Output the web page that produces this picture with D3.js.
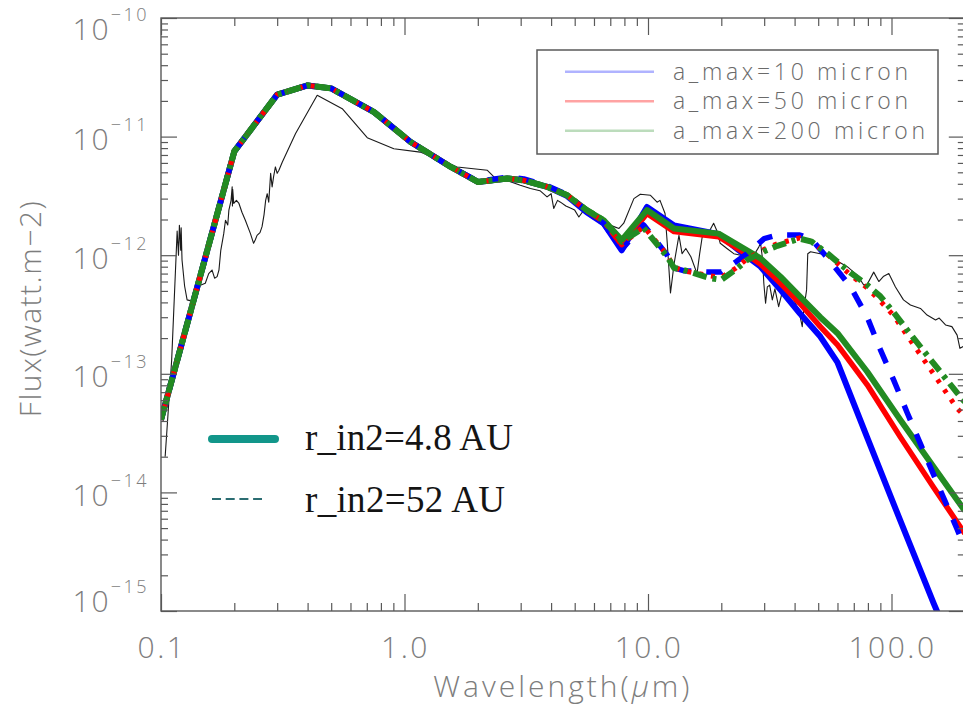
<!DOCTYPE html>
<html>
<head>
<meta charset="utf-8">
<script src="https://cdn.jsdelivr.net/npm/d3@7"></script>
<style>
  html, body { margin: 0; padding: 0; background: #fff; }
  svg { display: block; }
</style>
</head>
<body>
<svg id="chart" width="963" height="707"></svg>
<script>
// ---- Observed spectrum (wavelength in micron, flux in W m^-2) ----
const obsWl = [0.104, 0.1106, 0.1165, 0.118, 0.119, 0.1205, 0.121, 0.122, 0.125, 0.128, 0.134, 0.141,
  0.146, 0.152, 0.157, 0.162, 0.166, 0.170, 0.173, 0.176, 0.181, 0.184, 0.188, 0.190, 0.194, 0.196,
  0.1965, 0.197, 0.199, 0.204, 0.209, 0.215, 0.222, 0.233, 0.240, 0.244, 0.248, 0.255, 0.260, 0.265,
  0.269, 0.273, 0.277, 0.282, 0.286, 0.290, 0.295, 0.300, 0.305, 0.315, 0.357, 0.438, 0.555, 0.703,
  0.904, 1.16, 1.645, 2.19, 2.33, 2.6, 2.99, 3.29, 3.6, 3.85, 4.0, 4.1, 4.25, 4.37, 4.6, 4.8, 5.0,
  5.2, 5.45, 5.9, 6.5, 7.2, 7.6, 7.95, 8.75, 9.3, 10.24, 10.9, 11.2, 11.75, 12.0, 12.37, 12.8, 13.4,
  13.8, 14.3, 15.0, 15.9, 16.3, 16.7, 17.5, 18.6, 19.2, 19.8, 21.1, 22.5, 24, 25.5, 27.2, 28.5, 29,
  29.5, 29.9, 30.4, 30.9, 31.6, 32.4, 33.2, 34.4, 35.6, 36.7, 37.8, 39.5, 41.6, 43, 43.6, 44.8, 45.3,
  46.5, 51, 54.4, 56.5, 58.9, 65.8, 72.3, 76.9, 79.5, 84.5, 88.7, 92.5, 97.5, 103.8, 112, 119.6,
  131.5, 140, 151.7, 157, 166.7, 177, 186, 191, 197];
const obsFlux = [2.0e-14, 1.3e-13, 1.6e-12, 1.0e-12, 1.79e-12, 1.1e-12, 1.7e-12, 9.1e-13, 5.5e-13,
  4.2e-13, 4.1e-13, 6.0e-13, 5.6e-13, 5.8e-13, 7.0e-13, 7.5e-13, 6.4e-13, 6.6e-13, 7.5e-13, 1.1e-12,
  1.52e-12, 1.97e-12, 1.8e-12, 2.4e-12, 2.9e-12, 3.77e-12, 2.6e-12, 3.6e-12, 2.73e-12, 2.9e-12,
  2.73e-12, 2.3e-12, 1.97e-12, 1.52e-12, 1.26e-12, 1.35e-12, 1.47e-12, 1.55e-12, 1.74e-12, 2.2e-12,
  2.9e-12, 3.3e-12, 2.8e-12, 4.9e-12, 3.77e-12, 4.6e-12, 5.55e-12, 4.9e-12, 5.2e-12, 6.1e-12,
  1.06e-11, 2.23e-11, 1.72e-11, 9.8e-12, 7.9e-12, 7.4e-12, 5.55e-12, 5.2e-12, 4.57e-12, 4.3e-12,
  3.89e-12, 3.65e-12, 3.5e-12, 3.1e-12, 3.3e-12, 2.48e-12, 2.9e-12, 2.8e-12, 2.6e-12, 2.5e-12,
  2.4e-12, 2.1e-12, 2.4e-12, 2.04e-12, 1.9e-12, 1.75e-12, 1.68e-12, 1.86e-12, 3.0e-12, 3.27e-12,
  3.2e-12, 2.8e-12, 2.9e-12, 2.25e-12, 1.26e-12, 4.8e-13, 8.5e-13, 1.47e-12, 1.03e-12, 1.14e-12,
  9.7e-13, 7.0e-13, 1.03e-12, 1.43e-12, 1.47e-12, 1.86e-12, 1.6e-12, 1.26e-12, 1.14e-12, 1.03e-12,
  1.0e-12, 1.03e-12, 1.0e-12, 1.17e-12, 1.26e-12, 9.5e-13, 5.8e-13, 3.93e-13, 5.4e-13, 5.6e-13,
  4.2e-13, 5.2e-13, 3.68e-13, 4.9e-13, 4.3e-13, 4.9e-13, 4.3e-13, 3.45e-13, 2.5e-13, 3.45e-13,
  5.1e-13, 1.03e-12, 1.07e-12, 1.03e-12, 1.0e-12, 1.0e-12, 9.1e-13, 8.0e-13, 6.8e-13, 5.6e-13,
  5.7e-13, 7.2e-13, 6.0e-13, 6.6e-13, 7.0e-13, 5.4e-13, 4.2e-13, 3.8e-13, 3.56e-13, 3.13e-13,
  2.84e-13, 2.95e-13, 2.58e-13, 2.5e-13, 2.12e-13, 1.64e-13, 1.7e-13];

// ---- Models with inner radius r_in2 = 4.8 AU ----
const wlInner = [0.1, 0.2, 0.3, 0.4, 0.5, 0.75, 1.06, 1.55, 2.0, 2.64, 3.09, 3.86, 4.66, 5.6, 6.58,
  7.8, 9.9, 12.8, 19.5, 24, 29, 35, 42, 51, 60, 79.5, 108.6, 149, 200];
const blueInner = [4.1e-14, 7.5e-12, 2.26e-11, 2.7e-11, 2.55e-11, 1.61e-11, 9.0e-12, 5.55e-12,
  4.15e-12, 4.43e-12, 4.28e-12, 3.77e-12, 3.15e-12, 2.3e-12, 1.85e-12, 1.1e-12, 2.55e-12, 1.78e-12,
  1.5e-12, 1.07e-12, 8.0e-13, 5.1e-13, 3.24e-13, 2.06e-13, 1.25e-13, 2.9e-14, 5.8e-15, 1.16e-15, 2.8e-16];
const redInner = [4.1e-14, 7.5e-12, 2.26e-11, 2.7e-11, 2.55e-11, 1.61e-11, 9.0e-12, 5.55e-12,
  4.15e-12, 4.43e-12, 4.28e-12, 3.77e-12, 3.2e-12, 2.38e-12, 1.93e-12, 1.22e-12, 2.25e-12, 1.58e-12,
  1.43e-12, 1.1e-12, 8.4e-13, 5.8e-13, 3.93e-13, 2.5e-13, 1.75e-13, 8.07e-14, 2.94e-14, 1.1e-14, 4.5e-15];
const greenInner = [4.1e-14, 7.5e-12, 2.26e-11, 2.7e-11, 2.55e-11, 1.61e-11, 9.0e-12, 5.55e-12,
  4.15e-12, 4.43e-12, 4.28e-12, 3.77e-12, 3.2e-12, 2.4e-12, 1.97e-12, 1.34e-12, 2.4e-12, 1.68e-12,
  1.52e-12, 1.18e-12, 9.4e-13, 6.6e-13, 4.5e-13, 3.0e-13, 2.2e-13, 1.04e-13, 4.1e-14, 1.64e-14, 7.0e-15];

// ---- Models with inner radius r_in2 = 52 AU ----
const wlOuter = [0.1, 0.2, 0.3, 0.4, 0.5, 0.75, 1.06, 1.55, 2.0, 2.64, 3.09, 3.86, 4.66, 5.6, 6.58,
  7.8, 9.6, 12.0, 12.8, 14, 18, 20, 23, 25.5, 30, 34, 42, 47, 55, 68, 79.5, 90, 102, 116, 145, 186, 200];
const blueOuter = [4.1e-14, 7.5e-12, 2.26e-11, 2.7e-11, 2.55e-11, 1.61e-11, 9.0e-12, 5.55e-12,
  4.2e-12, 4.55e-12, 4.4e-12, 3.85e-12, 3.25e-12, 2.35e-12, 1.85e-12, 1.12e-12, 1.8e-12, 1.0e-12,
  7.8e-13, 7.4e-13, 7.2e-13, 7.2e-13, 8.8e-13, 1.03e-12, 1.38e-12, 1.48e-12, 1.48e-12, 1.36e-12,
  9.3e-13, 5.4e-13, 3.0e-13, 1.6e-13, 8.9e-14, 4.7e-14, 1.6e-14, 4.9e-15, 3.4e-15];
const redOuter = [4.1e-14, 7.5e-12, 2.26e-11, 2.7e-11, 2.55e-11, 1.61e-11, 9.0e-12, 5.55e-12,
  4.15e-12, 4.43e-12, 4.28e-12, 3.77e-12, 3.2e-12, 2.38e-12, 1.93e-12, 1.22e-12, 1.75e-12, 1.0e-12,
  7.9e-13, 7.4e-13, 6.7e-13, 6.5e-13, 7.8e-13, 9.3e-13, 1.12e-12, 1.25e-12, 1.4e-12, 1.3e-12,
  1.0e-12, 6.8e-13, 5.3e-13, 4.1e-13, 3.1e-13, 2.1e-13, 1.08e-13, 5.1e-14, 4.4e-14];
const greenOuter = [4.1e-14, 7.5e-12, 2.26e-11, 2.7e-11, 2.55e-11, 1.61e-11, 9.0e-12, 5.55e-12,
  4.15e-12, 4.43e-12, 4.28e-12, 3.77e-12, 3.2e-12, 2.4e-12, 1.97e-12, 1.3e-12, 1.7e-12, 9.7e-13,
  7.8e-13, 7.5e-13, 6.4e-13, 6.2e-13, 7.6e-13, 9.1e-13, 1.08e-12, 1.2e-12, 1.38e-12, 1.3e-12,
  1.02e-12, 7.1e-13, 5.6e-13, 4.5e-13, 3.3e-13, 2.34e-13, 1.31e-13, 6.9e-14, 5.8e-14];

// ---- Axis ticks and legend text ----
const xMajorTicks = [0.1, 1, 10, 100];
const xTickLabels = ["0.1", "1.0", "10.0", "100.0"];
const yExponents = [-15, -14, -13, -12, -11, -10];
const grainLabels = ["a_max=10 micron", "a_max=50 micron", "a_max=200 micron"];
const radiusLabels = ["r_in2=4.8 AU", "r_in2=52 AU"];

// ---- Layout ----
const plotLeft = 161, plotTop = 18, plotBottom = 611;
const plotRight = plotLeft + 243.5 * Math.log10(2000);   // frame runs just past the window edge

const svg = d3.select("#chart");
const x = d3.scaleLog().domain([0.1, 200]).range([plotLeft, plotRight]);
const y = d3.scaleLog().domain([1e-15, 1e-10]).range([plotBottom, plotTop]);

const axisColor = "#595959";
const labelColor = "#7d7d7d";
const labelFont = "'Open Sans', 'DejaVu Sans', sans-serif";

// minor tick positions (2..9 within each decade)
const xMinor = [];
[0.1, 1, 10, 100].forEach(d => { for (let k = 2; k <= 9; k++) if (d * k <= 200) xMinor.push(d * k); });
const yMinor = [];
for (let e = -15; e < -10; e++) for (let k = 2; k <= 9; k++) yMinor.push(k * Math.pow(10, e));
const yMajor = yExponents.map(e => Math.pow(10, e));

// ---- Curves ----
svg.append("defs").append("clipPath").attr("id", "plotClip")
  .append("rect").attr("x", plotLeft).attr("y", plotTop)
  .attr("width", plotRight - plotLeft).attr("height", plotBottom - plotTop);

const plot = svg.append("g").attr("clip-path", "url(#plotClip)");
const line = d3.line().x(d => x(d[0])).y(d => y(d[1]));
const zipPts = (wl, f) => wl.map((w, i) => [w, f[i]]);

plot.append("path").datum(zipPts(obsWl, obsFlux))
  .attr("d", line).attr("fill", "none").attr("stroke", "#1a1a1a").attr("stroke-width", 1.1)
  .attr("stroke-linejoin", "round");

const series = [
  { wl: wlInner, f: blueInner,  color: "#0000ff", width: 6,   dash: null },
  { wl: wlInner, f: redInner,   color: "#ff0000", width: 5.5, dash: null },
  { wl: wlInner, f: greenInner, color: "#228b22", width: 6,   dash: null },
  { wl: wlOuter, f: blueOuter,  color: "#0000ff", width: 5.5, dash: "16,15" },
  { wl: wlOuter, f: redOuter,   color: "#ff0000", width: 5,   dash: "4,8" },
  { wl: wlOuter, f: greenOuter, color: "#228b22", width: 6,   dash: "14,6,4,6" }
];
series.forEach(s => {
  plot.append("path").datum(zipPts(s.wl, s.f))
    .attr("d", line).attr("fill", "none")
    .attr("stroke", s.color).attr("stroke-width", s.width)
    .attr("stroke-dasharray", s.dash)
    .attr("stroke-linejoin", "round");
});

// ---- Axes: ticks point inward on all four sides ----
function styleAxis(g) {
  g.select(".domain").remove();
  g.selectAll("line").attr("stroke", axisColor).attr("stroke-width", 1.2);
  g.selectAll("text").remove();
}
svg.append("g").attr("transform", `translate(0,${plotBottom})`)
  .call(d3.axisBottom(x).tickValues(xMajorTicks).tickSize(-17).tickFormat("")).call(styleAxis);
svg.append("g").attr("transform", `translate(0,${plotBottom})`)
  .call(d3.axisBottom(x).tickValues(xMinor).tickSize(-8).tickFormat("")).call(styleAxis);
svg.append("g").attr("transform", `translate(0,${plotTop})`)
  .call(d3.axisTop(x).tickValues(xMajorTicks).tickSize(-17).tickFormat("")).call(styleAxis);
svg.append("g").attr("transform", `translate(0,${plotTop})`)
  .call(d3.axisTop(x).tickValues(xMinor).tickSize(-8).tickFormat("")).call(styleAxis);
svg.append("g").attr("transform", `translate(${plotLeft},0)`)
  .call(d3.axisLeft(y).tickValues(yMajor).tickSize(-16).tickFormat("")).call(styleAxis);
svg.append("g").attr("transform", `translate(${plotLeft},0)`)
  .call(d3.axisLeft(y).tickValues(yMinor).tickSize(-7).tickFormat("")).call(styleAxis);
svg.append("g").attr("transform", `translate(${plotRight},0)`)
  .call(d3.axisRight(y).tickValues(yMajor).tickSize(-16).tickFormat("")).call(styleAxis);
svg.append("g").attr("transform", `translate(${plotRight},0)`)
  .call(d3.axisRight(y).tickValues(yMinor).tickSize(-7).tickFormat("")).call(styleAxis);

svg.append("rect").attr("x", plotLeft).attr("y", plotTop)
  .attr("width", plotRight - plotLeft).attr("height", plotBottom - plotTop)
  .attr("fill", "none").attr("stroke", axisColor).attr("stroke-width", 1.4);

// x tick labels
svg.append("g").selectAll("text").data(xMajorTicks).join("text")
  .attr("x", d => x(d) + 1).attr("y", 658)
  .attr("text-anchor", "middle").attr("font-family", labelFont).attr("font-weight", 300)
  .attr("font-size", 30).attr("letter-spacing", 2.5).attr("fill", labelColor)
  .text((d, i) => xTickLabels[i]);

// y tick labels: 10 with a superscript exponent, kept inside the frame height
const yLab = svg.append("g").selectAll("text").data(yExponents).join("text")
  .attr("x", 149)
  .attr("y", e => Math.max(plotTop + 11, Math.min(plotBottom - 10, y(Math.pow(10, e)) + 3)) + 10.5)
  .attr("text-anchor", "end").attr("font-family", labelFont).attr("font-weight", 300)
  .attr("fill", labelColor);
yLab.append("tspan").attr("font-size", 30).attr("letter-spacing", 2).text("10");
yLab.append("tspan").attr("font-size", 18).attr("letter-spacing", 2.5).attr("dy", -19)
  .text(e => "\u2212" + Math.abs(e));

// axis titles
const xTitle = svg.append("text").attr("x", (plotLeft + plotRight) / 2).attr("y", 697)
  .attr("text-anchor", "middle").attr("font-family", labelFont).attr("font-weight", 300)
  .attr("font-size", 30).attr("letter-spacing", 3).attr("fill", labelColor);
xTitle.append("tspan").text("Wavelength(");
xTitle.append("tspan").attr("font-style", "italic").text("\u03bc");
xTitle.append("tspan").text("m)");

svg.append("text").attr("transform", `translate(41,${(plotTop + plotBottom) / 2 - 6}) rotate(-90)`)
  .attr("text-anchor", "middle").attr("font-family", labelFont).attr("font-weight", 300)
  .attr("font-size", 30).attr("letter-spacing", 1.5).attr("fill", labelColor)
  .text("Flux(watt.m\u22122)");

// ---- Grain-size legend (top right) ----
const lg = svg.append("g");
lg.append("rect").attr("x", 537).attr("y", 50).attr("width", 401).attr("height", 104)
  .attr("fill", "#fff").attr("stroke", "#5a5a5a").attr("stroke-width", 1.5);
const legendColors = ["#b0b3ff", "#ffa3a3", "#bcdcbc"];
const legendWidths = [235, 235, 252];
grainLabels.forEach((t, i) => {
  const cy = 71.7 + i * 29.5;
  lg.append("line").attr("x1", 565).attr("x2", 654).attr("y1", cy).attr("y2", cy)
    .attr("stroke", legendColors[i]).attr("stroke-width", 2.4);
  lg.append("text").attr("x", 673).attr("y", cy + 8)
    .attr("font-family", labelFont).attr("font-weight", 300).attr("font-size", 23)
    .attr("fill", "#6a6a6a")
    .attr("textLength", legendWidths[i]).attr("lengthAdjust", "spacing")
    .text(t);
});

// ---- Inner-radius legend (lower left) ----
const rg = svg.append("g");
rg.append("line").attr("x1", 212).attr("x2", 275).attr("y1", 439).attr("y2", 439)
  .attr("stroke", "#12968a").attr("stroke-width", 8).attr("stroke-linecap", "round");
rg.append("line").attr("x1", 212).attr("x2", 262).attr("y1", 499).attr("y2", 499)
  .attr("stroke", "#2b6d72").attr("stroke-width", 2.2).attr("stroke-dasharray", "9,4.7");
const radiusWidths = [208, 200];
rg.selectAll("text").data(radiusLabels).join("text")
  .attr("x", 305).attr("y", (d, i) => i === 0 ? 450 : 512)
  .attr("font-family", "'Liberation Serif', 'DejaVu Serif', serif")
  .attr("font-size", 37).attr("fill", "#141414")
  .attr("textLength", (d, i) => radiusWidths[i]).attr("lengthAdjust", "spacing")
  .text(d => d);
</script>
</body>
</html>
